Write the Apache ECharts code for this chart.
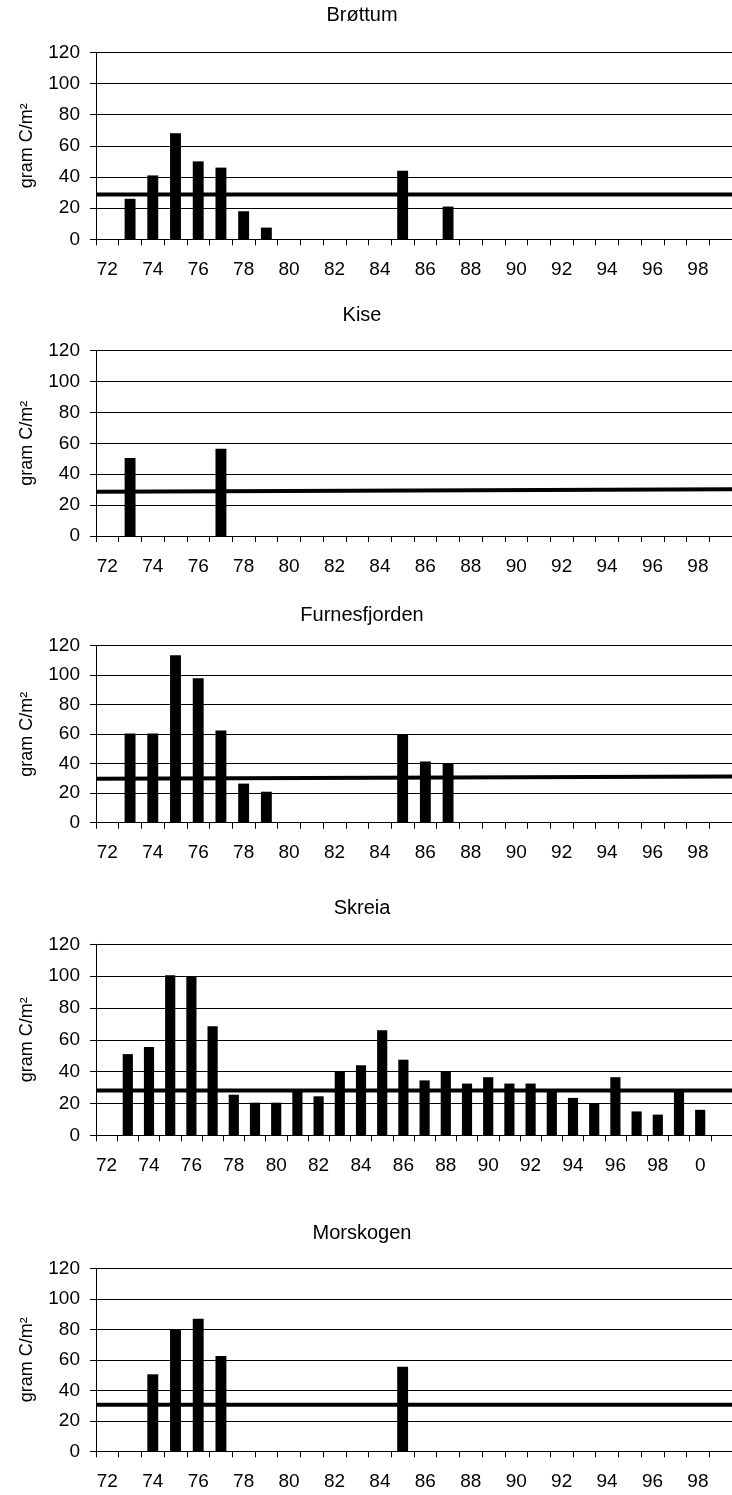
<!DOCTYPE html>
<html>
<head>
<meta charset="utf-8">
<title>gram C/m²</title>
<script src="https://cdn.jsdelivr.net/npm/echarts@6/dist/echarts.min.js"></script>
<style>
  html, body { margin: 0; padding: 0; background: #fff; }
  #chart { width: 732px; height: 1495px; }
</style>
</head>
<body>
<div id="chart"></div>
<script>
/* === Data === */
const STATIONS = ['Brøttum', 'Kise', 'Furnesfjorden', 'Skreia', 'Morskogen'];

const YEARS = ['72', '73', '74', '75', '76', '77', '78', '79', '80', '81', '82', '83', '84', '85',
  '86', '87', '88', '89', '90', '91', '92', '93', '94', '95', '96', '97', '98', '99'];
const YEARS_SKREIA = ['72', '73', '74', '75', '76', '77', '78', '79', '80', '81', '82', '83', '84', '85',
  '86', '87', '88', '89', '90', '91', '92', '93', '94', '95', '96', '97', '98', '99', '0', '1'];

const BROTTUM = [null, 26, 41, 68, 50, 46, 18, 7.5, null, null, null, null, null, 44,
  null, 21, null, null, null, null, null, null, null, null, null, null, null, null];
const KISE = [null, 50.5, null, null, null, 56.5, null, null, null, null, null, null, null, null,
  null, null, null, null, null, null, null, null, null, null, null, null, null, null];
const FURNESFJORDEN = [null, 60.5, 60.5, 113.5, 98, 62.5, 26.5, 21, null, null, null, null, null, 60,
  41.5, 40.5, null, null, null, null, null, null, null, null, null, null, null, null];
const SKREIA = [null, 51, 55.5, 100.5, 100, 68.5, 25.5, 20.5, 20.5, 28, 24.5, 40, 44, 66,
  47.5, 34.5, 40, 32.5, 36.5, 32.5, 32.5, 28, 23.5, 20, 36.5, 15, 13, 28, 16, null];
const MORSKOGEN = [null, null, 50.5, 80, 87, 62.5, null, null, null, null, null, null, null, 55.5,
  null, null, null, null, null, null, null, null, null, null, null, null, null, null];

// trend line, value at the left and right edge of each plot
const TREND_START = [28.8, 28.7, 29.8, 28.1, 30.6];
const TREND_END = [28.8, 30.2, 31.3, 28.1, 30.6];

const Y_TICKS = [0, 20, 40, 60, 80, 100, 120];

/* === Layout === */
const PANELS = [
  { title: 15, top: 52.3, height: 187, cats: YEARS, values: BROTTUM },
  { title: 315, top: 350.7, height: 185.3, cats: YEARS, values: KISE },
  { title: 615, top: 645.7, height: 177, cats: YEARS, values: FURNESFJORDEN },
  { title: 908.3, top: 944.3, height: 191, cats: YEARS_SKREIA, values: SKREIA },
  { title: 1233.3, top: 1268.3, height: 183, cats: YEARS, values: MORSKOGEN }
];

const FONT = "'Liberation Sans', Arial, sans-serif";
const BLACK = '#000';

function initChart() {
  const chart = echarts.init(document.getElementById('chart'), null, { renderer: 'canvas' });
  const title = [], grid = [], xAxis = [], yAxis = [], series = [];

  PANELS.forEach((p, i) => {
    title.push({
      text: STATIONS[i],
      left: 362, top: p.title - 10, textAlign: 'center', padding: 0,
      textStyle: { fontFamily: FONT, fontSize: 20, fontWeight: 'normal', color: BLACK, lineHeight: 20 }
    });
    grid.push({ left: 96, width: 641, top: p.top, height: p.height });

    xAxis.push({
      type: 'category', gridIndex: i, data: p.cats, boundaryGap: true,
      axisLine: { lineStyle: { color: BLACK, width: 1 } },
      axisTick: { show: true, interval: 0, length: 6, lineStyle: { color: BLACK } },
      axisLabel: { interval: 1, margin: 21, color: BLACK, fontFamily: FONT, fontSize: 19 },
      splitLine: { show: false }
    });
    xAxis.push({ type: 'value', gridIndex: i, min: 0, max: p.cats.length, show: false });

    yAxis.push({
      type: 'value', gridIndex: i, min: Y_TICKS[0], max: Y_TICKS[Y_TICKS.length - 1], interval: 20,
      name: 'gram C/m²', nameLocation: 'middle', nameGap: 60, nameRotate: 90,
      nameTextStyle: { fontFamily: FONT, fontSize: 18, color: BLACK },
      axisLine: { show: true, lineStyle: { color: BLACK, width: 1 } },
      axisTick: { show: true, length: 6, lineStyle: { color: BLACK } },
      axisLabel: { margin: 16, color: BLACK, fontFamily: FONT, fontSize: 19 },
      splitLine: { show: true, lineStyle: { color: BLACK, width: 1 } }
    });

    series.push({
      type: 'bar', xAxisIndex: i * 2, yAxisIndex: i,
      data: p.values, barWidth: '48%',
      itemStyle: { color: BLACK }
    });
    series.push({
      type: 'line', xAxisIndex: i * 2 + 1, yAxisIndex: i,
      data: [[0, TREND_START[i]], [p.cats.length, TREND_END[i]]],
      symbol: 'none', silent: true,
      lineStyle: { color: BLACK, width: 4 }
    });
  });

  chart.setOption({
    animation: false,
    backgroundColor: '#fff',
    title, grid, xAxis, yAxis, series
  });
  window.addEventListener('resize', () => chart.resize());
}

if (document.readyState === 'loading') {
  document.addEventListener('DOMContentLoaded', initChart);
} else {
  initChart();
}
</script>
</body>
</html>
